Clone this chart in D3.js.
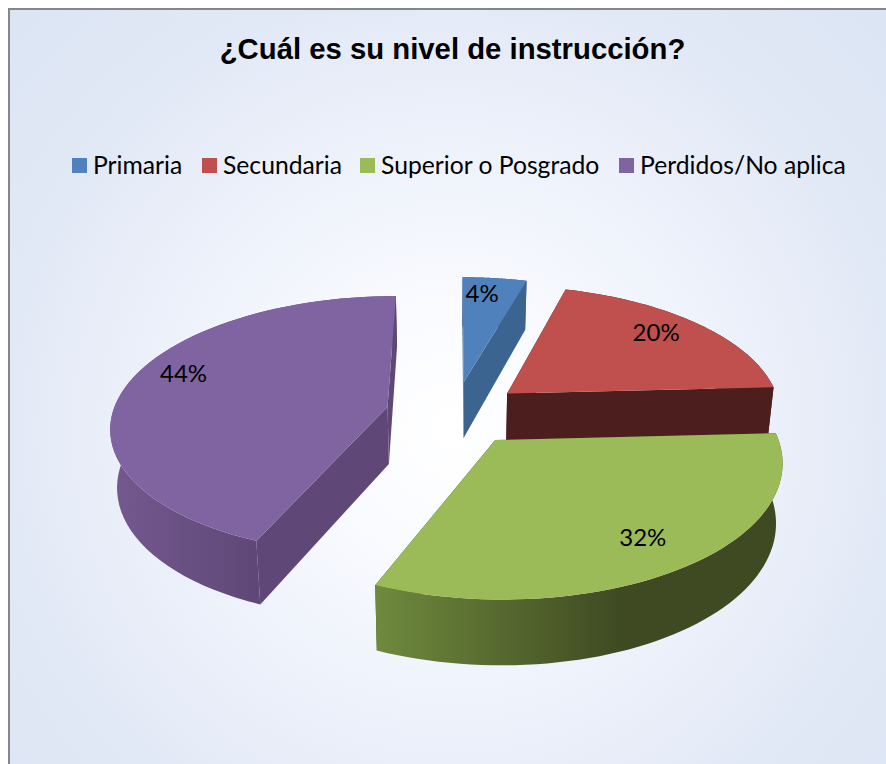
<!DOCTYPE html>
<html><head><meta charset="utf-8">
<script src="https://cdnjs.cloudflare.com/ajax/libs/d3/7.8.5/d3.min.js"></script>
<style>html,body{margin:0;padding:0;background:#fff}svg{display:block}</style>
</head><body><div id="c"></div>
<script>
const titleText = "¿Cuál es su nivel de instrucción?";
const categories = ["Primaria","Secundaria","Superior o Posgrado","Perdidos/No aplica"];
const values = [4.4,19.8,32.1,43.7];
const colors = ["#4f81bd","#c0504d","#9bbb59","#8064a2"];
const wallColors = ["#3b6590","#4c1f1e","#3f4a22","#5f4878"];
const outerLight = ["#3b6590","#4c1f1e","#6f8a3d","#74598f"];
const outerDark = ["#3b6590","#4c1f1e","#3f4a22","#5f4878"];

const W=886,H=764;
const svg=d3.select("#c").append("svg").attr("width",W).attr("height",H);
const defs=svg.append("defs");
const bg=defs.append("radialGradient").attr("id","bg").attr("gradientUnits","userSpaceOnUse")
  .attr("cx",450).attr("cy",430).attr("r",620);
[[0,"#ffffff"],[0.16,"#fbfcff"],[0.45,"#eef2fb"],[0.72,"#e2e9f6"],[1,"#dae4f3"]].forEach(s=>bg.append("stop").attr("offset",s[0]).attr("stop-color",s[1]));
svg.append("rect").attr("x",9).attr("y",9).attr("width",W+20).attr("height",H+20)
  .attr("fill","url(#bg)").attr("stroke","#868686").attr("stroke-width",2);

svg.append("text").attr("x",452.5).attr("y",59).attr("text-anchor","middle")
  .attr("font-family","'Liberation Sans'").attr("font-weight","bold").attr("font-size",29.3).attr("fill","#000").text(titleText);

// legend
const legendSwatchX=[72,202,360,619];
const legendG=svg.selectAll("g.lg").data(categories).join("g").attr("class","lg").attr("transform",(d,i)=>`translate(${legendSwatchX[i]},158)`);
legendG.append("rect").attr("width",15).attr("height",15).attr("fill",(d,i)=>colors[i]);
legendG.append("text").attr("x",21).attr("y",15.5).attr("font-family","Lato").attr("font-size",24.7).attr("fill","#000").text(d=>d);

// 3D exploded pie
const TAU=Math.PI*2, explode=0.25, persp=7, cx=454.5, cy=413;
const sx=d3.scaleLinear().domain([-1,1]).range([cx-275,cx+275]);
const sy=d3.scaleLinear().domain([-1,1]).range([cy+128.2,cy-128.2]);
function proj(X,Y,low){
  const s=persp/(persp+Y);
  let x=cx+(sx(X)-cx)*s, y=cy+(sy(Y)-cy)*s;
  if(low){ x=cx+(x-cx)*0.98; y+=57.5*(1-0.12*Y); }
  return [x,y];
}
const pie=d3.pie().sort(null).startAngle(0).endAngle(TAU);
const arcs=pie(values);
function groundAt(d,a,r){
  const m=(d.startAngle+d.endAngle)/2;
  return [explode*Math.sin(m)+r*Math.sin(a), explode*Math.cos(m)+r*Math.cos(a)];
}
const line=d3.line();
const arcPts=(d,low)=>d3.range(0,61).map(i=>{
  const a=d.startAngle+(d.endAngle-d.startAngle)*i/60;
  const g=groundAt(d,a,1); return proj(g[0],g[1],low);
});
const apex=(d,low)=>{const g=groundAt(d,0,0);return proj(g[0],g[1],low);};

arcs.forEach((d,i)=>{
  const g=svg.append("g");
  const top=arcPts(d,false), bot=arcPts(d,true);
  const xs=top.concat(bot).map(p=>p[0]);
  const gr=defs.append("linearGradient").attr("id","w"+i).attr("gradientUnits","userSpaceOnUse")
    .attr("x1",d3.min(xs)).attr("x2", i===2 ? 620 : top[0][0]).attr("y1",0).attr("y2",0);
  gr.append("stop").attr("offset",0).attr("stop-color",outerLight[i]);
  gr.append("stop").attr("offset",1).attr("stop-color",outerDark[i]);
  const a0=apex(d,false), a1=apex(d,true);
  [0,60].forEach(k=>{
    g.append("path").attr("d",line([a0,top[k],bot[k],a1])+"Z").attr("fill",wallColors[i]);
  });
  g.append("path").attr("d",line(top.concat(bot.slice().reverse()))+"Z").attr("fill",`url(#w${i})`);
  g.append("path").attr("d",line([a0].concat(top))+"Z").attr("fill",colors[i]);
});

// labels
const labelNudge=[[-7,0],[-5,0],[-1,2],[4,-10]];
svg.selectAll("text.pct").data(arcs).join("text").attr("class","pct")
  .attr("text-anchor","middle").attr("font-family","Lato").attr("font-size",24).attr("fill","#000")
  .attr("transform",(d,i)=>{
    const m=(d.startAngle+d.endAngle)/2;
    const g=groundAt(d,m,0.8), p=proj(g[0],g[1],false);
    return `translate(${p[0]+labelNudge[i][0]},${p[1]+5+labelNudge[i][1]})`;
  }).text(d=>Math.round(d.value)+"%");
</script></body></html>
